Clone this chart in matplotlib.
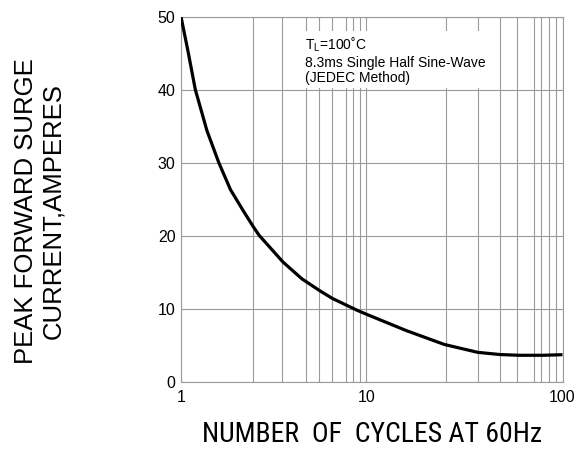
import numpy as np
import matplotlib
matplotlib.use("Agg")
import matplotlib.pyplot as plt
from matplotlib import font_manager
from matplotlib.ticker import FixedLocator, NullFormatter, FixedFormatter

# ---- data ----
cycles = [1, 1.09, 1.195, 1.38, 1.6, 1.85, 2.17, 2.46, 2.65, 2.9,
          3.55, 4.49, 5.62, 6.57, 8.9, 10, 16, 25, 37, 48, 60, 80, 100]
current = [50, 45.3, 40.0, 34.4, 30.0, 26.3, 23.4, 21.2, 20.0, 18.9,
           16.4, 14.1, 12.45, 11.4, 9.8, 9.25, 7.0, 5.1, 4.02, 3.72, 3.62, 3.62, 3.7]

x_major = [1, 10, 100]
x_major_labels = ["1", "10", "100"]
x_minor = [2.46, 3.53, 4.70, 5.59, 6.57, 7.73, 8.43, 9.20,
           25.4, 36.9, 48.3, 58.9, 71.7, 78.1, 85.5, 92.9]
y_ticks = [0, 10, 20, 30, 40, 50]

note = "T$_\\mathregular{L}$=100˚C\n8.3ms Single Half Sine-Wave\n(JEDEC Method)"
xlabel = "NUMBER  OF  CYCLES AT 60Hz"
ylabel = "PEAK FORWARD SURGE\nCURRENT,AMPERES"

plt.rcParams['font.family'] = ['Liberation Sans', 'DejaVu Sans']
plt.rcParams['mathtext.fontset'] = 'custom'
plt.rcParams['mathtext.rm'] = 'Liberation Sans'

# pick a regular-weight narrow font for the x label if one is installed
def _is_regular(f):
    w = f.weight
    if isinstance(w, str):
        return w.lower() in ('normal', 'regular', 'book', 'medium')
    return 380 <= w <= 500

narrow_fonts = [f for f in font_manager.fontManager.ttflist
                if ('Narrow' in f.name or 'Condensed' in f.name
                    or 'ondensed' in f.fname or 'Narrow' in f.fname)
                and _is_regular(f) and f.style == 'normal']
xl_kw = None
for cand in ['Liberation Sans Narrow', 'Arial Narrow', 'Roboto Condensed',
             'Open Sans Condensed', 'DejaVu Sans Condensed']:
    hit = [f for f in narrow_fonts if f.name == cand]
    if hit:
        xl_kw = dict(fontproperties=font_manager.FontProperties(
            fname=hit[0].fname, size=20))
        break
if xl_kw is None:
    dj = [f for f in narrow_fonts if 'DejaVuSansCondensed.ttf' in f.fname]
    if dj:
        xl_kw = dict(fontproperties=font_manager.FontProperties(
            fname=dj[0].fname, size=17))
    else:
        xl_kw = dict(family=['Liberation Sans'], fontsize=16.5)

# first decade is slightly shorter than the second one in the reference
A = 185.0 / 196.0

def fwd(x):
    x = np.asarray(x, dtype=float)
    with np.errstate(divide='ignore', invalid='ignore'):
        l = np.log10(np.where(x > 0, x, 1e-300))
    return np.where(l <= 1, l * A, A + (l - 1))

def inv(u):
    u = np.asarray(u, dtype=float)
    return np.where(u <= A, 10 ** (u / A), 10 ** (u - A + 1))

fig = plt.figure(figsize=(5.86, 4.53), dpi=100)
ax = fig.add_axes([0.3089, 0.1574, 0.651, 0.8057])
ax.set_xscale('function', functions=(fwd, inv))
ax.set_xlim(1, 100)
ax.set_ylim(0, 50)

gcol = '#9a9a9a'
ax.xaxis.set_major_locator(FixedLocator(x_major))
ax.xaxis.set_major_formatter(FixedFormatter(x_major_labels))
ax.xaxis.set_minor_locator(FixedLocator(x_minor))
ax.xaxis.set_minor_formatter(NullFormatter())
ax.set_yticks(y_ticks)
ax.grid(True, which='both', axis='x', color=gcol, lw=0.8)
ax.grid(True, which='major', axis='y', color=gcol, lw=0.8)
ax.tick_params(which='both', length=0, labelsize=11.5)
ax.tick_params(axis='x', pad=6)
ax.tick_params(axis='y', pad=4)
for s in ax.spines.values():
    s.set_color(gcol)
    s.set_linewidth(0.8)

ax.plot(cycles, current, color='black', lw=2.3, solid_joinstyle='round',
        solid_capstyle='butt', zorder=3)

ax.text(0.325, 0.947, note, transform=ax.transAxes, ha='left', va='top',
        fontsize=10, linespacing=1.1, zorder=4,
        bbox=dict(facecolor='white', edgecolor='none', pad=2.5))

ax.set_xlabel(xlabel, **xl_kw)
ax.xaxis.set_label_coords(0.5, -0.145)
ax.xaxis.label.set_va('center')
ax.set_ylabel(ylabel, fontsize=18.5, linespacing=1.17)
ax.yaxis.set_label_coords(-0.37, 0.468)
ax.yaxis.label.set_va('center')

fig.savefig('out.png', dpi=100)
